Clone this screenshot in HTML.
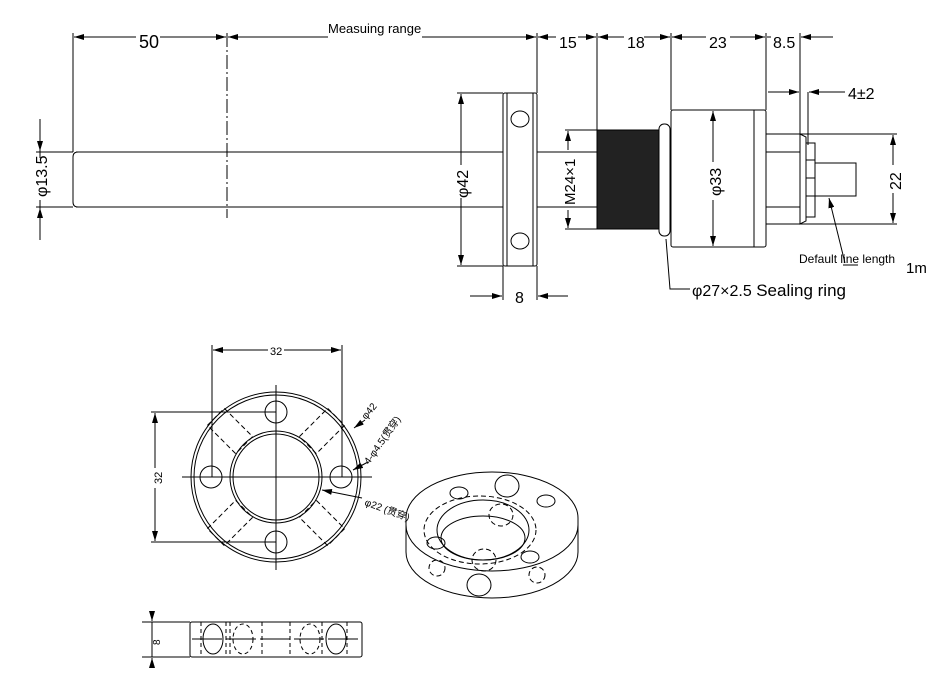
<!DOCTYPE html>
<html><head><meta charset="utf-8"><style>body{margin:0;background:#fff}svg{display:block}text{font-family:"Liberation Sans","Noto Sans CJK SC",sans-serif;fill:#000}.n{font-family:"Liberation Sans Narrow","Liberation Sans",sans-serif}</style></head><body>
<svg width="932" height="677" viewBox="0 0 932 677" xmlns="http://www.w3.org/2000/svg">
<defs><marker id="a" viewBox="0 0 10 6" refX="10" refY="3" markerWidth="10" markerHeight="6" orient="auto-start-reverse"><path d="M0,0L10,3L0,6z" fill="#000"/></marker></defs>
<g stroke="#000" fill="none" stroke-width="1">
<line x1="73" y1="33" x2="73" y2="152"/>
<line x1="227" y1="33" x2="227" y2="218" stroke-dasharray="14,3,2,3"/>
<line x1="537" y1="33" x2="537" y2="93"/>
<line x1="597" y1="33" x2="597" y2="130"/>
<line x1="671" y1="33" x2="671" y2="110"/>
<line x1="766" y1="33" x2="766" y2="110"/>
<line x1="800" y1="33" x2="800" y2="135"/>
<line x1="74" y1="37" x2="136" y2="37" marker-start="url(#a)"/>
<line x1="160" y1="37" x2="226" y2="37" marker-end="url(#a)"/>
<line x1="228" y1="37" x2="328" y2="37" marker-start="url(#a)"/>
<line x1="422" y1="37" x2="536" y2="37" marker-end="url(#a)"/>
<line x1="538" y1="37" x2="556" y2="37" marker-start="url(#a)"/>
<line x1="578" y1="37" x2="596" y2="37" marker-end="url(#a)"/>
<line x1="598" y1="37" x2="624" y2="37" marker-start="url(#a)"/>
<line x1="644" y1="37" x2="670" y2="37" marker-end="url(#a)"/>
<line x1="672" y1="37" x2="706" y2="37" marker-start="url(#a)"/>
<line x1="730" y1="37" x2="765" y2="37" marker-end="url(#a)"/>
<line x1="767" y1="37" x2="771" y2="37"/>
<line x1="801" y1="37" x2="833" y2="37" marker-start="url(#a)"/>
<path d="M76,152 L503,152 M76,207 L503,207 M537,152 L597,152 M537,207 L597,207"/>
<path d="M78,152 Q73,152 73,157 L73,202 Q73,207 78,207"/>
<rect x="503" y="93" width="34" height="173" rx="2"/>
<line x1="507" y1="93" x2="507" y2="266"/><line x1="533" y1="93" x2="533" y2="266"/>
<ellipse cx="520" cy="119" rx="9" ry="8"/><ellipse cx="520" cy="241" rx="9" ry="8"/>
<rect x="597" y="130" width="62" height="99" fill="#222"/>
<rect x="659" y="124" width="11" height="112" rx="5" fill="#fff"/>
<rect x="671" y="110" width="95" height="137" rx="2"/>
<line x1="754" y1="110" x2="754" y2="247"/>
<rect x="766" y="134" width="34" height="90"/>
<line x1="766" y1="152" x2="800" y2="152"/><line x1="766" y1="207" x2="800" y2="207"/>
<path d="M800,134 L806,137 L806,221 L800,224 Z"/>
<rect x="806" y="143" width="9" height="74"/>
<path d="M806,160 h9 M806,178 h9 M806,196 h9"/>
<rect x="815" y="163" width="41" height="33"/>
<line x1="565" y1="130" x2="597" y2="130"/><line x1="565" y1="229" x2="597" y2="229"/>
<line x1="568" y1="131" x2="568" y2="150" marker-start="url(#a)"/>
<line x1="568" y1="210" x2="568" y2="228" marker-end="url(#a)"/>
<line x1="457" y1="93" x2="503" y2="93"/><line x1="457" y1="266" x2="503" y2="266"/>
<line x1="461" y1="94" x2="461" y2="165" marker-start="url(#a)"/>
<line x1="461" y1="198" x2="461" y2="265" marker-end="url(#a)"/>
<line x1="713" y1="111" x2="713" y2="162" marker-start="url(#a)"/>
<line x1="713" y1="200" x2="713" y2="246" marker-end="url(#a)"/>
<line x1="800" y1="134" x2="897" y2="134"/><line x1="800" y1="224" x2="897" y2="224"/>
<line x1="893" y1="135" x2="893" y2="165" marker-start="url(#a)"/>
<line x1="893" y1="193" x2="893" y2="223" marker-end="url(#a)"/>
<line x1="36" y1="152" x2="73" y2="152"/><line x1="36" y1="207" x2="73" y2="207"/>
<line x1="40" y1="119" x2="40" y2="151" marker-end="url(#a)"/>
<line x1="40" y1="240" x2="40" y2="208" marker-end="url(#a)"/>
<line x1="40" y1="151" x2="40" y2="158"/><line x1="40" y1="200" x2="40" y2="208"/>
<line x1="503" y1="266" x2="503" y2="300"/><line x1="537" y1="266" x2="537" y2="300"/>
<line x1="470" y1="296" x2="502" y2="296" marker-end="url(#a)"/>
<line x1="568" y1="296" x2="538" y2="296" marker-end="url(#a)"/>
<line x1="808" y1="92" x2="808" y2="145"/>
<line x1="768" y1="92" x2="799" y2="92" marker-end="url(#a)"/>
<line x1="845" y1="92" x2="809" y2="92" marker-end="url(#a)"/>
<path d="M666,239 L670,289 L690,289"/>
<line x1="845" y1="263" x2="829" y2="198" marker-end="url(#a)"/>
<line x1="843" y1="265" x2="858" y2="265"/>
<circle cx="276" cy="477" r="85"/><circle cx="276" cy="477" r="82"/>
<circle cx="276" cy="477" r="46"/><circle cx="276" cy="477" r="43"/>
<circle cx="276" cy="412" r="11"/><circle cx="276" cy="542" r="11"/><circle cx="211" cy="477" r="11"/><circle cx="341" cy="477" r="11"/>
<path d="M276,385 V570 M182,477 H372 M261,477 H291 M276,462 V492"/>
<g stroke-dasharray="5,3">
<rect x="-20" y="-12" width="40" height="24" transform="translate(230,431) rotate(45)"/>
<rect x="-20" y="-12" width="40" height="24" transform="translate(322,431) rotate(-45)"/>
<rect x="-20" y="-12" width="40" height="24" transform="translate(230,523) rotate(-45)"/>
<rect x="-20" y="-12" width="40" height="24" transform="translate(322,523) rotate(45)"/>
</g>
<line x1="212" y1="345" x2="212" y2="477"/><line x1="342" y1="345" x2="342" y2="477"/>
<line x1="213" y1="350" x2="268" y2="350" marker-start="url(#a)"/>
<line x1="284" y1="350" x2="341" y2="350" marker-end="url(#a)"/>
<line x1="151" y1="412" x2="276" y2="412"/><line x1="151" y1="542" x2="276" y2="542"/>
<line x1="155" y1="413" x2="155" y2="468" marker-start="url(#a)"/>
<line x1="155" y1="488" x2="155" y2="541" marker-end="url(#a)"/>
<line x1="365" y1="420" x2="354" y2="428" marker-end="url(#a)"/>
<line x1="368" y1="462" x2="353" y2="470" marker-end="url(#a)"/>
<line x1="362" y1="498" x2="322" y2="490" marker-end="url(#a)"/>
<path d="M406,518 A86,46 0 0 1 578,518 L578,552 A86,46 0 0 1 406,552 Z"/>
<path d="M406,525 A86,46 0 0 0 578,525"/>
<ellipse cx="483" cy="530" rx="46" ry="30"/>
<ellipse cx="483" cy="538" rx="42" ry="22"/>
<ellipse cx="507" cy="486" rx="12" ry="11"/><ellipse cx="479" cy="585" rx="12" ry="11"/>
<ellipse cx="459" cy="493" rx="9" ry="6"/><ellipse cx="546" cy="501" rx="9" ry="6"/>
<ellipse cx="436" cy="543" rx="9" ry="6"/><ellipse cx="530" cy="557" rx="9" ry="6"/>
<g stroke-dasharray="5,3"><ellipse cx="501" cy="515" rx="12" ry="11"/><ellipse cx="484" cy="560" rx="12" ry="11"/><ellipse cx="480" cy="530" rx="56" ry="34"/><ellipse cx="437" cy="568" rx="8" ry="8"/><ellipse cx="537" cy="575" rx="8" ry="8"/></g>
<rect x="190" y="622" width="172" height="35" rx="2"/>
<line x1="142" y1="622" x2="190" y2="622"/><line x1="142" y1="657" x2="190" y2="657"/>
<line x1="152" y1="612" x2="152" y2="621" marker-end="url(#a)"/>
<line x1="152" y1="667" x2="152" y2="658" marker-end="url(#a)"/>
<line x1="152" y1="622" x2="152" y2="657"/>
<ellipse cx="213" cy="639" rx="10" ry="15"/><ellipse cx="336" cy="639" rx="10" ry="15"/>
<path d="M192,639 H360" stroke-dasharray="30,4"/>
<g stroke-dasharray="4,3"><path d="M201,622 V657 M226,622 V657 M230,622 V657 M262,622 V657 M290,622 V657 M322,622 V657 M347,622 V657"/><ellipse cx="243" cy="639" rx="10" ry="15"/><ellipse cx="310" cy="639" rx="10" ry="15"/></g>
</g>
<g font-size="16" class="n">
<text x="139" y="48" font-size="18" class="n">50</text>
<text x="328" y="33" font-size="13" style="font-family:'Liberation Sans',sans-serif">Measuing range</text>
<text x="559" y="48" class="n">15</text>
<text x="627" y="48" class="n">18</text>
<text x="709" y="48" class="n">23</text>
<text x="773" y="48" class="n">8.5</text>
<text x="848" y="99" class="n">4±2</text>
<text transform="translate(575,205) rotate(-90)" font-size="15" class="n">M24×1</text>
<text transform="translate(468,198) rotate(-90)" class="n">φ42</text>
<text transform="translate(721,196) rotate(-90)" class="n">φ33</text>
<text transform="translate(901,190) rotate(-90)" class="n">22</text>
<text transform="translate(47,197) rotate(-90)" class="n">φ13.5</text>
<text x="515" y="303" class="n">8</text>
<text x="692" y="296" class="n">φ27×2.5 <tspan font-size="17" style="font-family:'Liberation Sans',sans-serif">Sealing ring</tspan></text>
<text x="799" y="263" font-size="12" style="font-family:'Liberation Sans',sans-serif">Default line length</text>
<text x="906" y="273" font-size="15" class="n">1m</text>
<text x="270" y="355" font-size="11" class="n">32</text>
<text transform="translate(162,484) rotate(-90)" font-size="11" class="n">32</text>
<text transform="translate(366,420) rotate(-50)" font-size="10" class="n">φ42</text>
<text transform="translate(369,465) rotate(-55)" font-size="10" class="n">4-φ4.5(贯穿)</text>
<text transform="translate(364,505) rotate(20)" font-size="10" class="n">φ22 (贯穿)</text>
<text transform="translate(160,645) rotate(-90)" font-size="10" class="n">8</text>
</g>
</svg>
</body></html>
